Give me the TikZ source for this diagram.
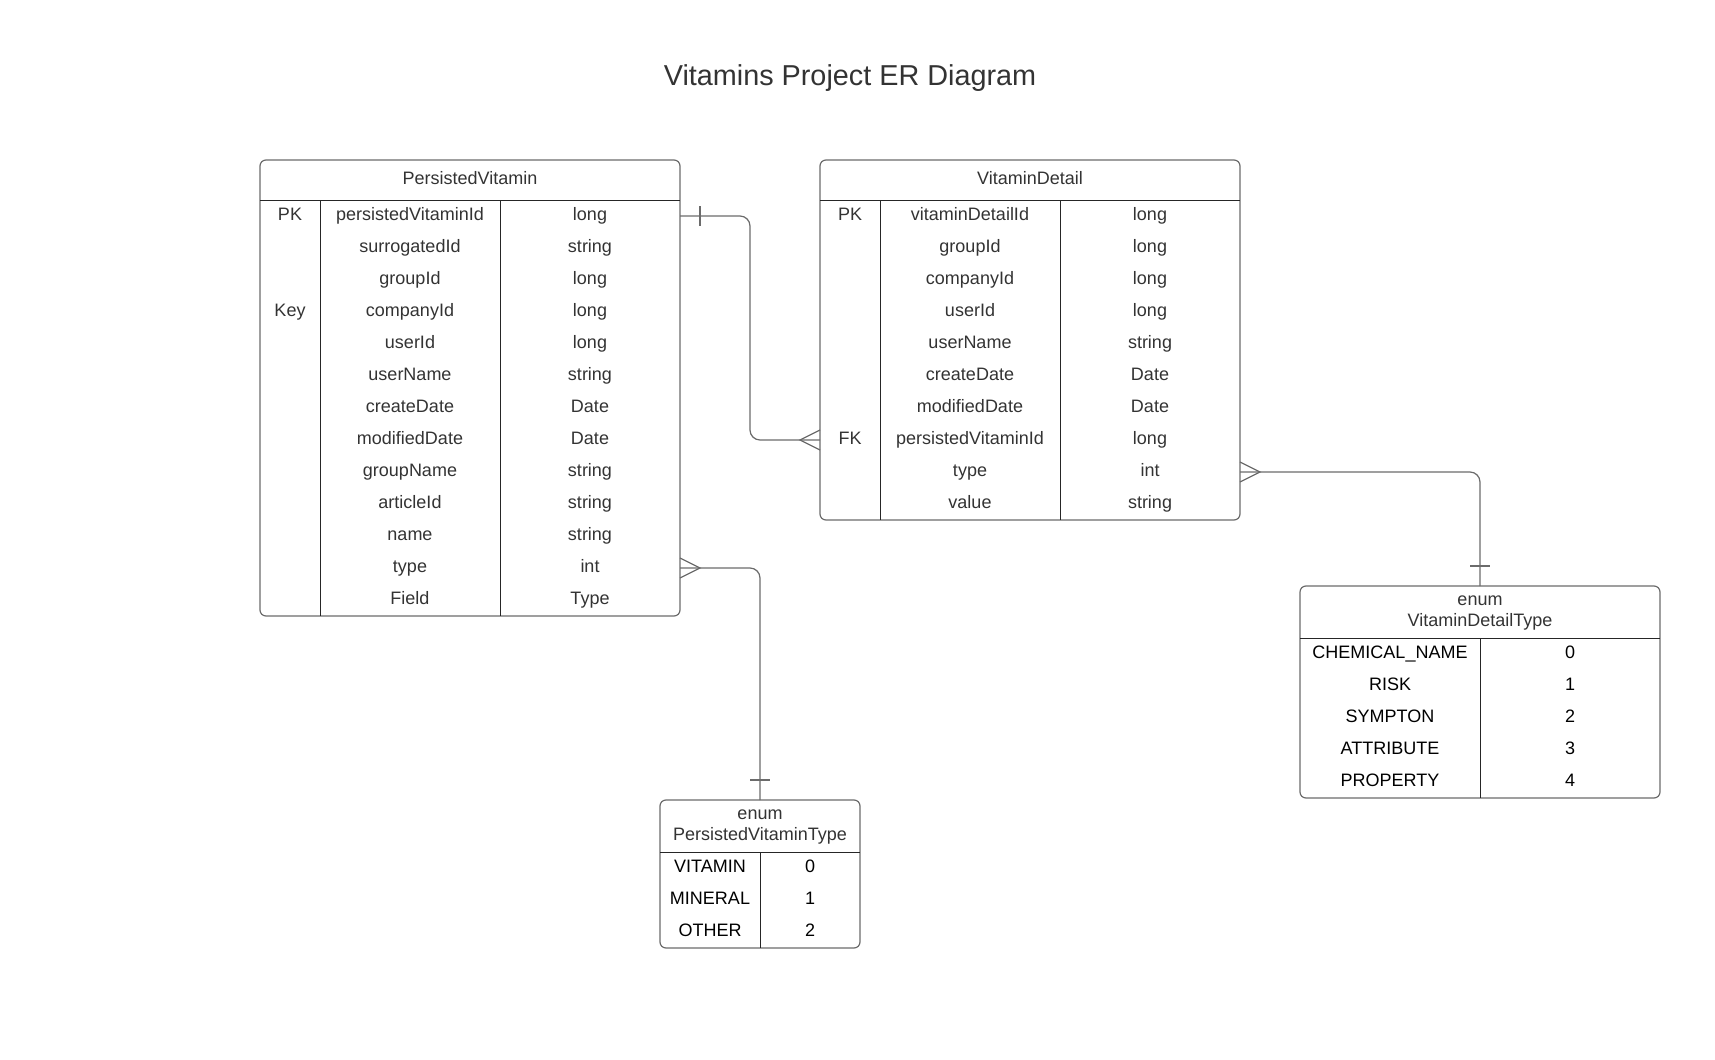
\documentclass[tikz,border=0pt]{standalone}
\usepackage{fontspec}
\setmainfont{Liberation Sans}
\definecolor{framegray}{HTML}{6B6B6B}
\definecolor{textgray}{HTML}{333333}
\tikzset{
  tbl/.style={draw=framegray,line width=0.6pt,rounded corners=3pt,inner sep=0pt,outer sep=0pt},
  rule/.style={draw=black!85,line width=0.5pt},
  hdr/.style={inner sep=0pt,outer sep=0pt,text=textgray,font=\fontsize{9}{10.8}\selectfont,align=center},
  cell/.style={inner sep=0pt,outer sep=0pt,minimum height=16pt,text height=6.6pt,text depth=1.9pt,text=textgray,font=\fontsize{9}{10.8}\selectfont},
  ecell/.style={cell,text=black},
  conn/.style={draw=framegray,line width=0.6pt,rounded corners=5pt},
  crow/.style={draw=framegray,line width=0.6pt},
}
\begin{document}
\begin{tikzpicture}[x=0.5pt,y=-0.5pt]
\useasboundingbox (0,0) rectangle (1715,1060);
\node[text=textgray,font=\fontsize{14.4}{17}\selectfont] (title) at (850,78) {Vitamins Project ER Diagram};
% PersistedVitamin
\node[tbl,minimum width=210pt,minimum height=228pt] (pv) at (470,388) {};
\node[hdr,minimum width=210pt,minimum height=20pt,text height=6.6pt,text depth=2.6pt,anchor=north] (pvh) at (pv.north) {PersistedVitamin};
\draw[rule] (pvh.south west)--(pvh.south east);
\foreach \k/\n/\t [count=\i] in {PK/persistedVitaminId/long,{}/surrogatedId/string,{}/groupId/long,Key/companyId/long,{}/userId/long,{}/userName/string,{}/createDate/Date,{}/modifiedDate/Date,{}/groupName/string,{}/articleId/string,{}/name/string,{}/type/int,{}/Field/Type}{
  \node[cell,minimum width=30pt](pv\i-k)at(290,184+32*\i){\k};
  \node[cell,minimum width=90pt](pv\i-n)at(410,184+32*\i){\n};
  \node[cell,minimum width=90pt](pv\i-t)at(590,184+32*\i){\t};}
\draw[rule] (pv1-k.north east)--(pv13-k.south east);
\draw[rule] (pv1-n.north east)--(pv13-n.south east);
% VitaminDetail
\node[tbl,minimum width=210pt,minimum height=180pt] (vd) at (1030,340) {};
\node[hdr,minimum width=210pt,minimum height=20pt,text height=6.6pt,text depth=2.6pt,anchor=north] (vdh) at (vd.north) {VitaminDetail};
\draw[rule] (vdh.south west)--(vdh.south east);
\foreach \k/\n/\t [count=\i] in {PK/vitaminDetailId/long,{}/groupId/long,{}/companyId/long,{}/userId/long,{}/userName/string,{}/createDate/Date,{}/modifiedDate/Date,FK/persistedVitaminId/long,{}/type/int,{}/value/string}{
  \node[cell,minimum width=30pt](vd\i-k)at(850,184+32*\i){\k};
  \node[cell,minimum width=90pt](vd\i-n)at(970,184+32*\i){\n};
  \node[cell,minimum width=90pt](vd\i-t)at(1150,184+32*\i){\t};}
\draw[rule] (vd1-k.north east)--(vd10-k.south east);
\draw[rule] (vd1-n.north east)--(vd10-n.south east);
% enum PersistedVitaminType
\node[tbl,minimum width=100pt,minimum height=74pt] (pvt) at (760,874) {};
\node[hdr,minimum width=100pt,minimum height=26pt,anchor=north] (pvth) at ([yshift=-0.5pt]pvt.north) {enum\\PersistedVitaminType};
\foreach \n/\v [count=\i] in {VITAMIN/0,MINERAL/1,OTHER/2}{
  \node[ecell,minimum width=50pt](pvt\i-n)at(710,836+32*\i){\n};
  \node[ecell,minimum width=50pt](pvt\i-v)at(810,836+32*\i){\v};}
\draw[rule] (pvt1-n.north west)--(pvt1-v.north east);
\draw[rule] (pvt1-n.north east)--(pvt3-n.south east);
% enum VitaminDetailType
\node[tbl,minimum width=180pt,minimum height=106pt] (vdt) at (1480,692) {};
\node[hdr,minimum width=180pt,minimum height=26pt,anchor=north] (vdth) at ([yshift=-0.5pt]vdt.north) {enum\\VitaminDetailType};
\foreach \n/\v [count=\i] in {CHEMICAL\_NAME/0,RISK/1,SYMPTON/2,ATTRIBUTE/3,PROPERTY/4}{
  \node[ecell,minimum width=90pt](vdt\i-n)at(1390,622+32*\i){\n};
  \node[ecell,minimum width=90pt](vdt\i-v)at(1570,622+32*\i){\v};}
\draw[rule] (vdt1-n.north west)--(vdt1-v.north east);
\draw[rule] (vdt1-n.north east)--(vdt5-n.south east);
% relations
\draw[conn] (pv1-t.east)--++(70,0)|-(vd8-k.west);
\draw[crow] (pv1-t.east)++(20,-10)--++(0,20);
\draw[crow] (vd8-k.west)++(0,-10)--++(-20,10)--++(20,10);
\draw[conn] (vd9-t.east)-|(vdt.north);
\draw[crow] (vd9-t.east)++(0,-10)--++(20,10)--++(-20,10);
\draw[crow] (vdt.north)++(-10,-20)--++(20,0);
\draw[conn] (pv12-t.east)-|(pvt.north);
\draw[crow] (pv12-t.east)++(0,-10)--++(20,10)--++(-20,10);
\draw[crow] (pvt.north)++(-10,-20)--++(20,0);
\end{tikzpicture}
\end{document}
